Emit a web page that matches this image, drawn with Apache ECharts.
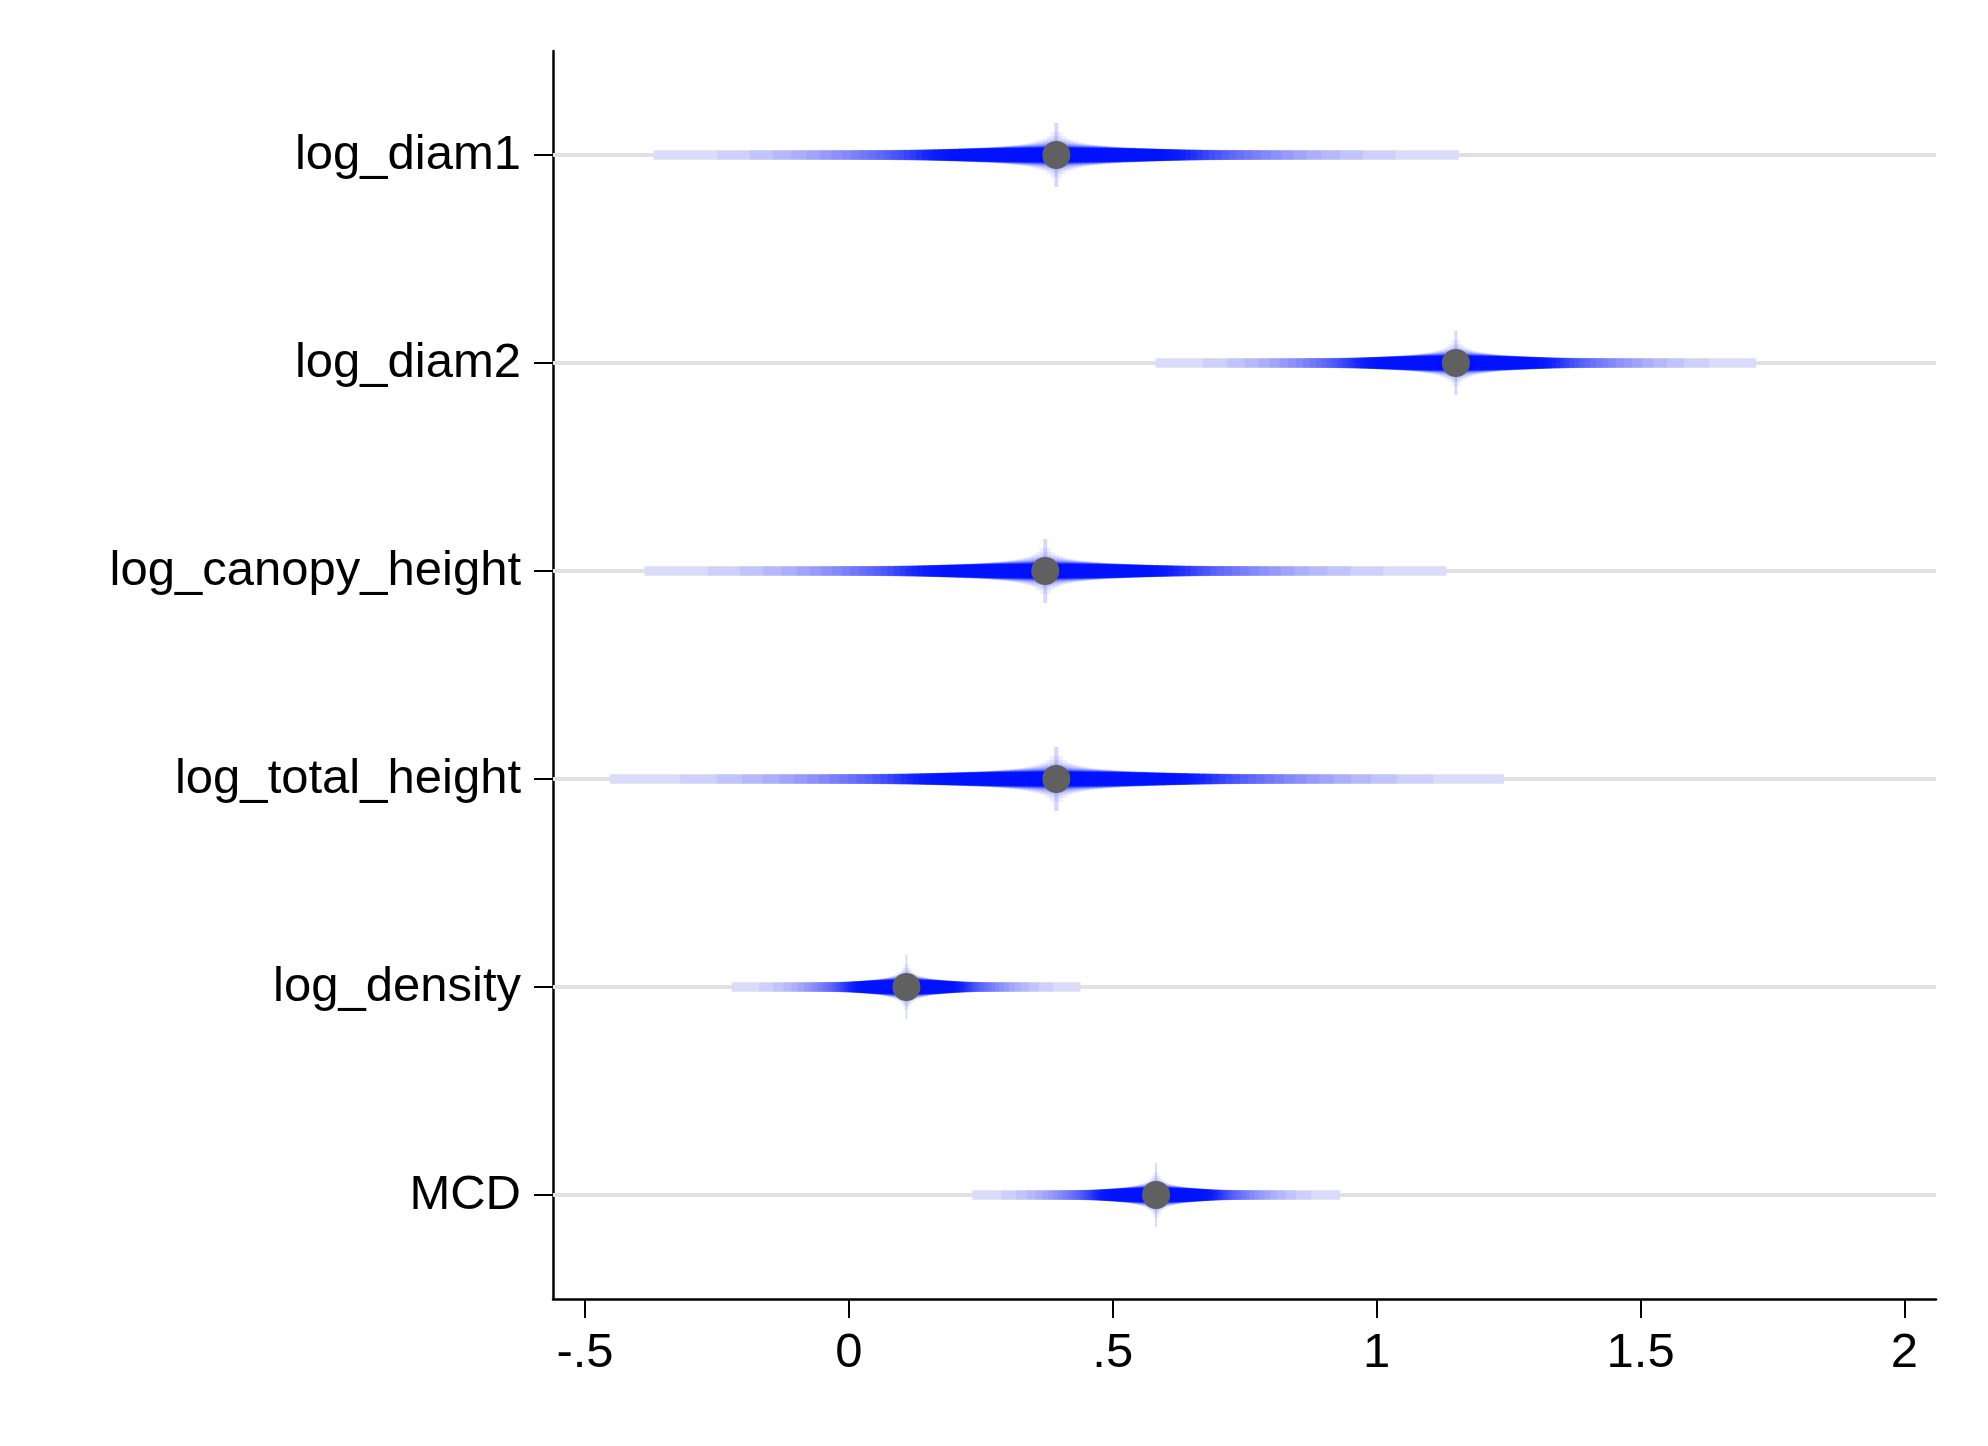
<!DOCTYPE html>
<html><head><meta charset="utf-8">
<script src="https://cdn.jsdelivr.net/npm/echarts@6/dist/echarts.min.js"></script>
<style>html,body{margin:0;padding:0;background:#fff}#c{width:1988px;height:1446px}</style>
</head><body><div id="c"></div>
<script>
// ---- data ----
const variables = ['log_diam1','log_diam2','log_canopy_height','log_total_height','log_density','MCD'];
const estimates = [0.393, 1.150, 0.372, 0.393, 0.109, 0.582];
const ci99Low   = [-0.370, 0.581, -0.387, -0.453, -0.222, 0.234];
const ci99High  = [1.156, 1.719, 1.132, 1.241, 0.439, 0.931];
// confidence levels (%) of the smoothed intervals, widest first
const ciLevels = [99,97,95,93,91,89,87,85,83,81,79,77,75,73,71,69,67,65,63,61,59,57,55,53,51,49,47,45,43,41,39,37,35,33,31,29,27,25,23,21,19,17,15,13,11,9,7,5,3,1];
// normal critical values of those levels
const ciZ = [2.5758,2.1701,1.9600,1.8119,1.6954,1.5982,1.5141,1.4395,1.3722,1.3106,1.2536,1.2004,1.1503,1.1031,1.0581,1.0152,0.9741,0.9346,0.8965,0.8596,0.8239,0.7892,0.7554,0.7225,0.6903,0.6588,0.6280,0.5978,0.5681,0.5388,0.5101,0.4817,0.4538,0.4261,0.3989,0.3719,0.3451,0.3186,0.2924,0.2663,0.2404,0.2147,0.1891,0.1637,0.1383,0.1130,0.0878,0.0627,0.0376,0.0125];
const xTickValues = [-0.5, 0, 0.5, 1, 1.5, 2];
const xTickLabels = ['-.5', '0', '.5', '1', '1.5', '2'];
const X_MIN = -0.5606, X_MAX = 2.0597;

// ---- styling helpers ----
const FONT = '"Liberation Sans", Arial, Helvetica, sans-serif';
function lineWidthFor(L){ return 9.3 + (64 - 9.3) * Math.pow(Math.log(99 / L) / Math.log(99), 1.5); }
function fillFor(L){
  if (L === 99) return '#dbdcfa';
  const s = L >= 50 ? 15 : 20;
  let a = 0.06 + 0.36 * Math.exp(-Math.pow((L - 50) / s, 2));
  if (L === 1) a = 0.17;
  return 'rgba(0,20,255,' + a.toFixed(3) + ')';
}

// build interval items
const ciItems = [];
variables.forEach((v, i) => {
  ciLevels.forEach((L, k) => {
    const r = ciZ[k] / ciZ[0];
    const lo = estimates[i] - (estimates[i] - ci99Low[i]) * r;
    const hi = estimates[i] + (ci99High[i] - estimates[i]) * r;
    ciItems.push([lo, hi, i, L]);
  });
});

const chart = echarts.init(document.getElementById('c'), null, {renderer: 'canvas'});
chart.setOption({
  backgroundColor: '#fff',
  animation: false,
  grid: {left: 553, right: 52, top: 51, bottom: 147, containLabel: false},
  xAxis: {
    type: 'value', min: X_MIN, max: X_MAX,
    axisLine: {show: true, onZero: false, lineStyle: {color: '#000', width: 2.5}},
    axisTick: {show: true, length: 19, customValues: xTickValues, lineStyle: {color: '#000', width: 2}},
    axisLabel: {
      customValues: xTickValues, fontSize: 49, color: '#000', fontFamily: FONT, margin: 30,
      formatter: (val) => { const j = xTickValues.findIndex(t => Math.abs(t - val) < 1e-9); return j >= 0 ? xTickLabels[j] : ''; }
    },
    splitLine: {show: false}
  },
  yAxis: {
    type: 'category', data: variables, inverse: true, boundaryGap: true,
    axisLine: {show: true, onZero: false, lineStyle: {color: '#000', width: 2.5}},
    axisTick: {show: true, alignWithLabel: true, length: 19, lineStyle: {color: '#000', width: 2}},
    axisLabel: {fontSize: 49, color: '#000', fontFamily: FONT, margin: 32, interval: 0},
    splitLine: {show: false}
  },
  series: [
    {
      type: 'custom', z: 1, silent: true,
      data: variables.map((v, i) => [X_MIN, i]),
      encode: {x: 0, y: 1},
      renderItem: (params, api) => {
        const cs = params.coordSys;
        const y = api.coord([X_MIN, api.value(1)])[1];
        return {type: 'line', shape: {x1: cs.x, y1: y, x2: cs.x + cs.width, y2: y},
                style: {stroke: '#e1e1e1', lineWidth: 4}};
      }
    },
    {
      type: 'custom', z: 2, silent: true,
      data: ciItems,
      encode: {x: [0, 1], y: 2},
      renderItem: (params, api) => {
        const lo = api.value(0), hi = api.value(1), cat = api.value(2), L = api.value(3);
        const p0 = api.coord([lo, cat]);
        const p1 = api.coord([hi, cat]);
        const w = lineWidthFor(L);
        return {type: 'rect', shape: {x: p0[0], y: p0[1] - w / 2, width: p1[0] - p0[0], height: w},
                style: {fill: fillFor(L)}};
      }
    },
    {
      type: 'scatter', z: 3, silent: true,
      data: estimates.map((e, i) => [e, i]),
      symbol: 'circle', symbolSize: 28,
      itemStyle: {color: '#606060', opacity: 1}
    }
  ]
});
</script>
</body></html>
